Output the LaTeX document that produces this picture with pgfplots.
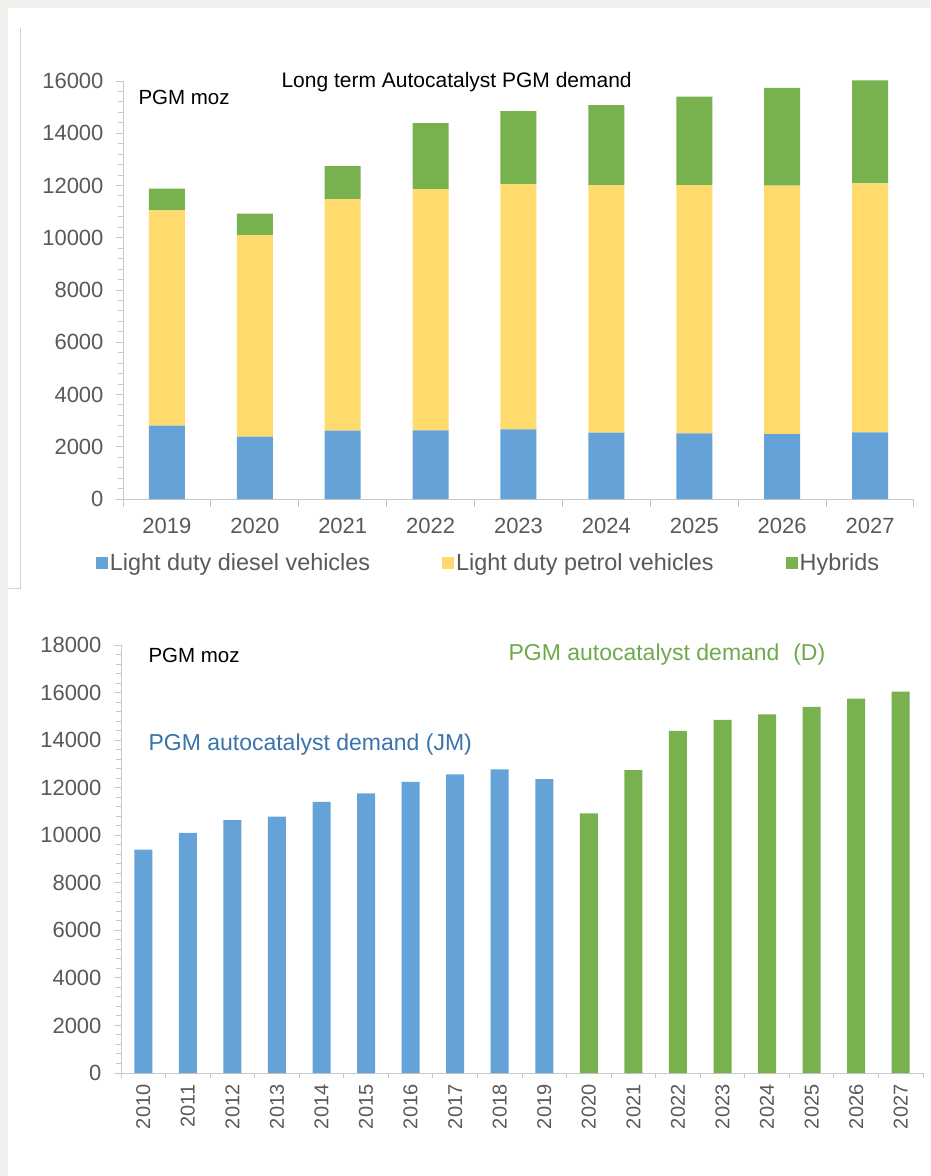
\documentclass[border=0pt]{standalone}
\usepackage{pgfplots}
\pgfplotsset{compat=1.18}
\usepackage{fontspec}
\setmainfont{Liberation Sans}

\definecolor{bgray}{HTML}{F1F0EC}
\definecolor{diesel}{HTML}{65A2D8}
\definecolor{petrol}{HTML}{FFDA6C}
\definecolor{hybrid}{HTML}{78B24F}
\definecolor{axgray}{HTML}{C8C8C8}
\definecolor{lblgray}{HTML}{595959}
\definecolor{jmblue}{HTML}{3A74AB}
\definecolor{dgreen}{HTML}{6FAA4A}

\pgfplotsset{
  pgmaxis/.style={
    scale only axis,
    axis x line*=bottom, axis y line*=left,
    axis line style={axgray, line width=1pt},
    tick style={axgray, line width=1pt},
    tick align=outside,
    major tick length=7pt, minor tick length=5pt,
    enlargelimits=false,
    xmin=-0.5, ymin=0,
    minor y tick num=4,
    scaled y ticks=false,
    major x tick style={draw=none},
    yticklabel style={/pgf/number format/1000 sep={},
      /pgf/number format/assume math mode=true,
      font=\fontsize{22}{22}\selectfont, text=lblgray, xshift=-9pt},
  },
  legend sq/.style={legend image code/.code={\fill[##1] (0pt,-6pt) rectangle (12pt,6pt);}},
}

\begin{document}
\begin{tikzpicture}
\path[use as bounding box] (0pt,0pt) rectangle (930pt,-1176pt);
\fill[bgray] (0pt,0pt) rectangle (930pt,-1176pt);
\fill[white] (8pt,-8pt) rectangle (930pt,-1176pt);
\draw[color=axgray!80, line width=1pt] (20pt,-28pt) -- (20pt,-588pt) -- (8pt,-588pt);

% top: stacked bars by vehicle type
\begin{axis}[pgmaxis,
  at={(123pt,-499pt)}, anchor=south west,
  width=791pt, height=418pt,
  xmax=8.5, ymax=16000,
  ytick={0,2000,...,16000},
  xtick={0,...,8},
  xticklabels={2019,2020,2021,2022,2023,2024,2025,2026,2027},
  minor xtick={-0.5,0.5,...,8.5},
  minor x tick style={/pgfplots/minor tick length=8pt},
  xticklabel style={font=\fontsize{22}{22}\selectfont, text=lblgray, yshift=-9pt},
  ybar stacked, bar width=36pt,
  clip=false,
  legend columns=3,
  legend style={at={(0.5,0)}, anchor=center, yshift=-64pt, xshift=-30pt,
    draw=none, fill=none, font=\fontsize{23.4}{23}\selectfont, text=lblgray,
    /tikz/every even column/.append style={column sep=70pt}},
]
\addplot[fill=diesel, draw=none, legend sq] coordinates {
  (0,2806) (1,2385) (2,2615) (3,2629) (4,2667) (5,2539) (6,2513) (7,2488) (8,2552)};
\addplot[fill=petrol, draw=none, legend sq] coordinates {
  (0,8256) (1,7720) (2,8868) (3,9237) (4,9390) (5,9480) (6,9506) (7,9505) (8,9531)};
\addplot[fill=hybrid, draw=none, legend sq] coordinates {
  (0,818) (1,815) (2,1257) (3,2524) (4,2793) (5,3061) (6,3381) (7,3747) (8,3937)};
\legend{Light duty diesel vehicles, Light duty petrol vehicles, Hybrids}
\end{axis}
\node[anchor=west, font=\fontsize{20.5}{20}\selectfont] at (135pt,-97pt) {PGM moz};
\node[anchor=west, font=\fontsize{21}{21}\selectfont] at (278pt,-82pt) {Long term Autocatalyst PGM demand};

% bottom: JM history and D forecast
\begin{axis}[pgmaxis,
  at={(121pt,-1073pt)}, anchor=south west,
  width=802pt, height=428pt,
  xmax=17.5, ymax=18000,
  ytick={0,2000,...,18000},
  xtick={0,...,17},
  xticklabels={2010,2011,2012,2013,2014,2015,2016,2017,2018,2019,2020,2021,2022,2023,2024,2025,2026,2027},
  minor xtick={-0.5,0.5,...,17.5},
  xticklabel style={font=\fontsize{20}{20}\selectfont, text=lblgray, rotate=90, anchor=east, xshift=-1pt},
  ybar, bar width=18pt, bar shift=0pt,
]
\addplot[fill=diesel, draw=none] coordinates {
  (0,9400) (1,10100) (2,10640) (3,10780) (4,11400) (5,11760) (6,12240) (7,12560) (8,12770) (9,12360)};
\addplot[fill=hybrid, draw=none] coordinates {
  (10,10920) (11,12740) (12,14390) (13,14850) (14,15080) (15,15400) (16,15740) (17,16040)};
\end{axis}
\node[anchor=west, font=\fontsize{20.5}{20}\selectfont] at (145pt,-655pt) {PGM moz};
\node[anchor=west, font=\fontsize{23}{23}\selectfont, text=dgreen] at (505pt,-655pt) {PGM autocatalyst demand\hspace{0.6em}(D)};
\node[anchor=west, font=\fontsize{23}{23}\selectfont, text=jmblue] at (145pt,-745pt) {PGM autocatalyst demand (JM)};
\end{tikzpicture}
\end{document}
